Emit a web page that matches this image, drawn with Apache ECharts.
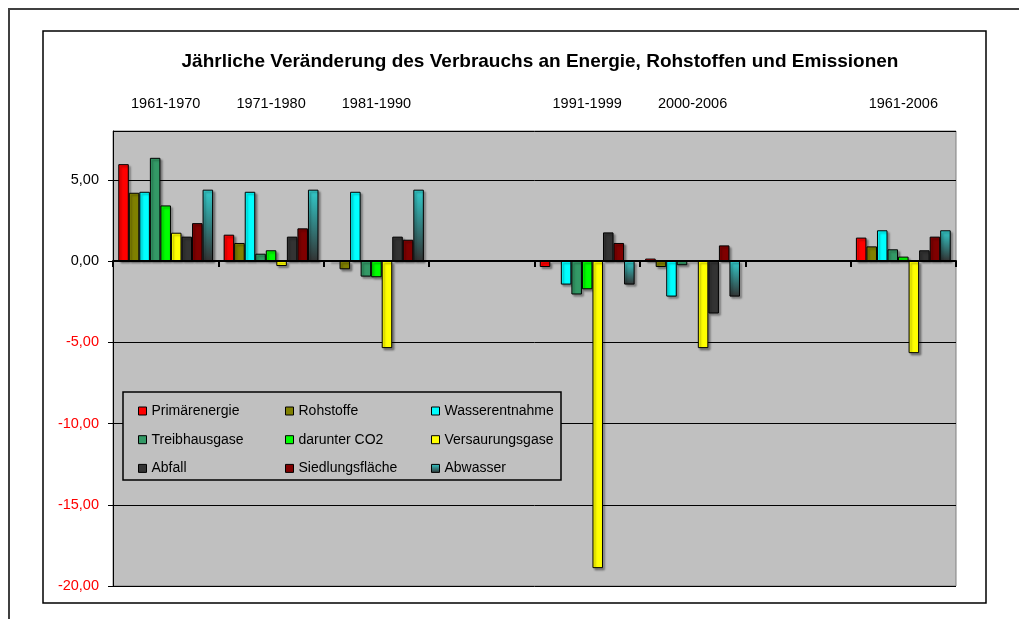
<!DOCTYPE html>
<html>
<head>
<meta charset="utf-8">
<script src="https://cdn.jsdelivr.net/npm/echarts@6/dist/echarts.min.js"></script>
<style>
  html, body { margin: 0; padding: 0; background: #fff; }
  #chart { width: 1019px; height: 619px; }
</style>
</head>
<body>
<div id="chart"></div>
<script>
// Zeiträume (leere Kategorien = Lücken in der Grafik)
const categories = ['1961-1970', '1971-1980', '1981-1990', '', '1991-1999', '2000-2006', '', '1961-2006']

// jährliche Veränderung in %
const primaerenergie = [5.96, 1.62, 0, null, -0.37, 0.15, null, 1.44]
const rohstoffe = [4.2, 1.11, -0.51, null, 0, -0.37, null, 0.9]
const wasserentnahme = [4.26, 4.26, 4.26, null, -1.45, -2.19, null, 1.89]
const treibhausgase = [6.35, 0.45, -0.96, null, -2.06, -0.26, null, 0.72]
const co2 = [3.42, 0.66, -1.0, null, -1.74, 0, null, 0.27]
const versauerung = [1.74, -0.31, -5.36, null, -18.9, -5.36, null, -5.67]
const abfall = [1.5, 1.5, 1.5, null, 1.76, -3.23, null, 0.66]
const siedlung = [2.33, 2.01, 1.31, null, 1.11, 0.96, null, 1.5]
const abwasser = [4.39, 4.39, 4.39, null, -1.45, -2.19, null, 1.89]

const yTicks = { min: -20, max: 8, interval: 5 }

const font = 'Arial, "Liberation Sans", sans-serif'

const chart = echarts.init(document.getElementById('chart'))

function bar(name, data, color) {
  return {
    name: name,
    type: 'bar',
    xAxisIndex: 0,
    data: data,
    barGap: '0%',
    barCategoryGap: '10%',
    itemStyle: {
      color: color,
      borderColor: '#000',
      borderWidth: 1,
      shadowColor: 'rgba(0, 0, 0, 0.35)',
      shadowBlur: 2,
      shadowOffsetX: 2,
      shadowOffsetY: 2,
    },
  }
}

const abwasserColor = new echarts.graphic.LinearGradient(0, 0, 0, 1, [
  { offset: 0, color: '#33cccc' },
  { offset: 1, color: '#333333' },
])

const legendCommon = {
  orient: 'vertical',
  icon: 'rect',
  itemWidth: 8,
  itemHeight: 8,
  itemGap: 12.7,
  top: 398,
  z: 20,
  selectedMode: false,
  textStyle: { fontFamily: font, fontSize: 14, color: '#000', lineHeight: 16 },
  itemStyle: { borderColor: '#000', borderWidth: 1, shadowColor: 'transparent', shadowBlur: 0 },
}

const option = {
  animation: false,
  title: {
    text: 'Jährliche Veränderung des Verbrauchs an Energie, Rohstoffen und Emissionen',
    left: 535,
    top: 47,
    textAlign: 'center',
    textStyle: { fontFamily: font, fontSize: 19, fontWeight: 'bold', color: '#000' },
  },
  graphic: [
    {
      type: 'rect',
      z: -10,
      shape: { x: 9, y: 9, width: 1020, height: 620 },
      style: { fill: 'none', stroke: '#404040', lineWidth: 2 },
    },
    {
      type: 'rect',
      z: -10,
      shape: { x: 43, y: 31, width: 943, height: 572 },
      style: { fill: 'none', stroke: '#000', lineWidth: 1.5 },
    },
    {
      type: 'rect',
      z: 10,
      shape: { x: 123, y: 392, width: 438, height: 88 },
      style: { fill: '#c0c0c0', stroke: '#000', lineWidth: 1.5 },
    },
  ],
  legend: [
    Object.assign({ left: 133, data: ['Primärenergie', 'Treibhausgase', 'Abfall'] }, legendCommon),
    Object.assign({ left: 280, data: ['Rohstoffe', 'darunter CO2', 'Siedlungsfläche'] }, legendCommon),
    Object.assign({ left: 426, data: ['Wasserentnahme', 'Versaurungsgase', 'Abwasser'] }, legendCommon),
  ],
  grid: {
    left: 113,
    right: 63,
    top: 131,
    bottom: 33,
    show: true,
    backgroundColor: '#c0c0c0',
    borderColor: '#808080',
    borderWidth: 1,
  },
  xAxis: [
    {
      type: 'category',
      data: categories,
      z: 5,
      axisLine: { onZero: true, lineStyle: { color: '#000', width: 2 } },
      axisTick: { show: true, interval: 0, length: 6, lineStyle: { color: '#000', width: 2 } },
      axisLabel: { show: false },
    },
    {
      type: 'category',
      data: categories,
      position: 'top',
      axisLine: { show: false },
      axisTick: { show: false },
      axisLabel: { interval: 0, margin: 20, fontFamily: font, fontSize: 14.5, color: '#000' },
    },
  ],
  yAxis: {
    type: 'value',
    min: yTicks.min,
    max: yTicks.max,
    interval: yTicks.interval,
    axisLine: { show: true, lineStyle: { color: '#000', width: 1 } },
    axisTick: { show: true, length: 5, lineStyle: { color: '#000' } },
    splitLine: { lineStyle: { color: '#000', width: 1 } },
    axisLabel: {
      margin: 14,
      showMaxLabel: false,
      fontFamily: font,
      fontSize: 14.5,
      color: function (value) {
        return value < 0 ? '#ff0000' : '#000'
      },
      formatter: function (value) {
        return value.toFixed(2).replace('.', ',')
      },
    },
  },
  series: [
    bar('Primärenergie', primaerenergie, '#ff0000'),
    bar('Rohstoffe', rohstoffe, '#808000'),
    bar('Wasserentnahme', wasserentnahme, '#00ffff'),
    bar('Treibhausgase', treibhausgase, '#339966'),
    bar('darunter CO2', co2, '#00ff00'),
    bar('Versaurungsgase', versauerung, '#ffff00'),
    bar('Abfall', abfall, '#333333'),
    bar('Siedlungsfläche', siedlung, '#800000'),
    bar('Abwasser', abwasser, abwasserColor),
  ],
}

chart.setOption(option)
</script>
</body>
</html>
